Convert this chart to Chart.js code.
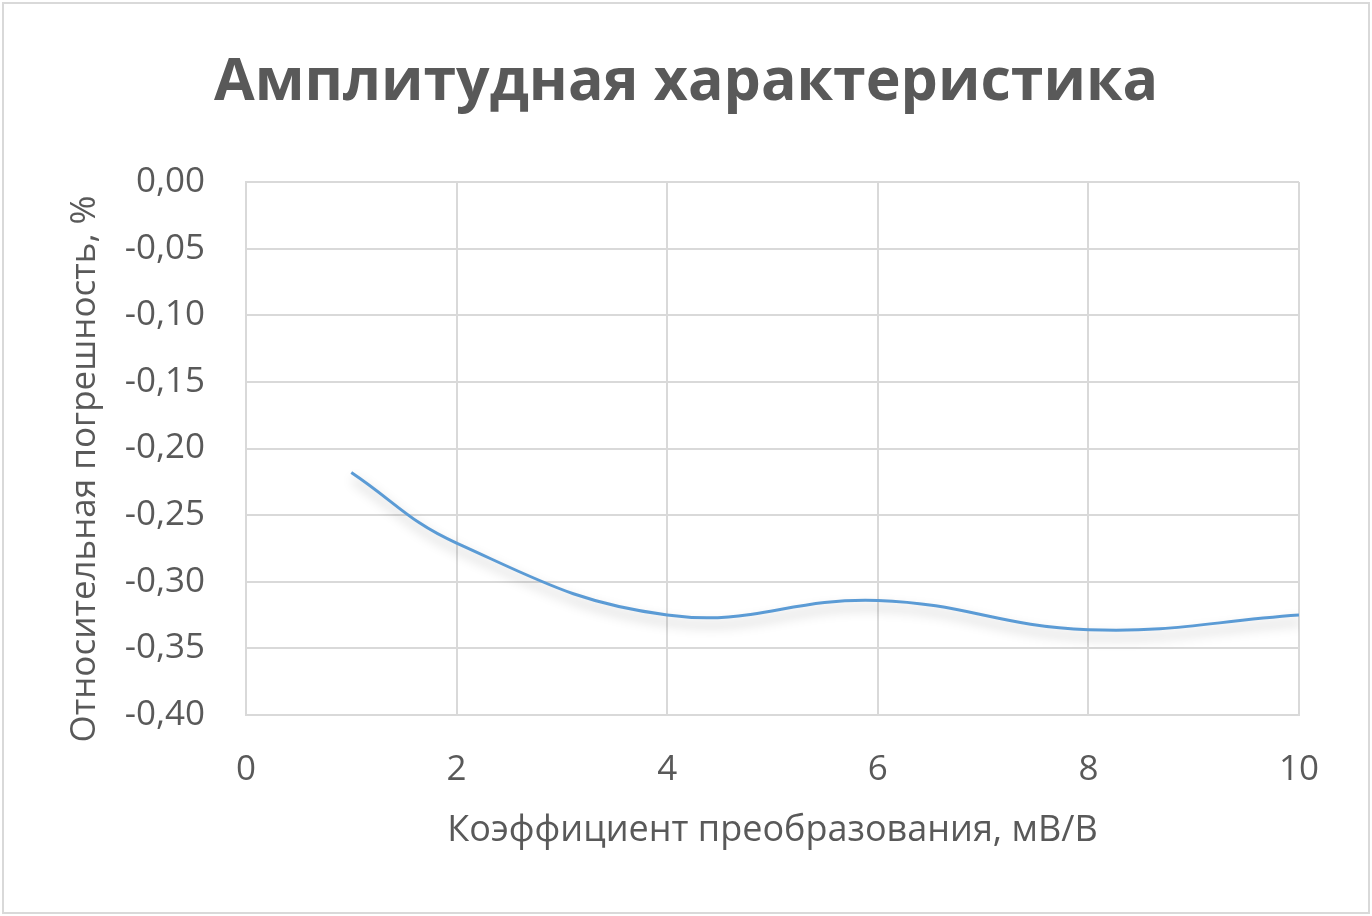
<!DOCTYPE html>
<html>
<head>
<meta charset="utf-8">
<script src="https://cdn.jsdelivr.net/npm/chart.js@4.4.0/dist/chart.umd.min.js"></script>
<style>
  html, body { margin: 0; padding: 0; background: #ffffff; }
  #wrap { position: relative; width: 1372px; height: 916px; }
</style>
</head>
<body>
<div id="wrap"><canvas id="c" width="1372" height="916"></canvas></div>
<script>
const chartTitle = 'Амплитудная характеристика';
const xTitle = 'Коэффициент преобразования, мВ/В';
const yTitle = 'Относительная погрешность, %';
const xValues = [1, 2, 4, 6, 8, 10];
const yValues = [-0.218, -0.271, -0.325, -0.314, -0.336, -0.325];
const xTicks = [0, 2, 4, 6, 8, 10];
const yTicks = [0, -0.05, -0.10, -0.15, -0.20, -0.25, -0.30, -0.35, -0.40];

const TEXT = '#595959';
const GRID = '#d9d9d9';
const FONT = "'Open Sans', 'Noto Sans', sans-serif";

const frame = {
  id: 'frame',
  beforeDraw(chart) {
    const ctx = chart.ctx;
    ctx.save();
    ctx.fillStyle = '#ffffff';
    ctx.fillRect(0, 0, chart.width, chart.height);
    ctx.strokeStyle = GRID;
    ctx.lineWidth = 2;
    ctx.strokeRect(3, 3, chart.width - 6, chart.height - 6);
    ctx.restore();
  },
  afterDraw(chart) {
    const ctx = chart.ctx;
    ctx.save();
    ctx.translate(85, 469);
    ctx.rotate(-Math.PI / 2);
    ctx.fillStyle = TEXT;
    ctx.font = '35px ' + FONT;
    ctx.textAlign = 'center';
    ctx.textBaseline = 'middle';
    ctx.fillText(yTitle, 0, 0);
    ctx.restore();
  }
};

const shadow = {
  id: 'shadow',
  beforeDatasetDraw(chart) {
    const ctx = chart.ctx;
    ctx.save();
    ctx.shadowColor = 'rgba(0,0,0,0.28)';
    ctx.shadowBlur = 12;
    ctx.shadowOffsetX = 2;
    ctx.shadowOffsetY = 7;
  },
  afterDatasetDraw(chart) {
    chart.ctx.restore();
  }
};

new Chart(document.getElementById('c'), {
  type: 'scatter',
  data: {
    datasets: [{
      data: xValues.map((x, i) => ({ x: x, y: yValues[i] })),
      showLine: true,
      borderColor: '#5b9bd5',
      borderWidth: 3,
      pointRadius: 0,
      tension: 0.42,
      fill: false
    }]
  },
  plugins: [frame, shadow],
  options: {
    responsive: false,
    animation: false,
    devicePixelRatio: 1,
    layout: { padding: 0 },
    plugins: {
      legend: { display: false },
      tooltip: { enabled: false },
      title: {
        display: true,
        text: chartTitle,
        color: TEXT,
        font: { family: FONT, size: 59, weight: 'bold', lineHeight: 1.2 },
        padding: { top: 48, bottom: 63.2 }
      }
    },
    scales: {
      x: {
        type: 'linear',
        min: 0, max: 10,
        afterBuildTicks(scale) { scale.ticks = xTicks.map(v => ({ value: v })); },
        afterFit(scale) { scale.height = 201; },
        grid: { color: GRID, lineWidth: 2, drawTicks: false },
        border: { color: GRID, width: 2 },
        ticks: {
          color: TEXT, padding: 34,
          font: { family: FONT, size: 35 },
          callback: v => String(v)
        },
        title: {
          display: true, text: xTitle, color: TEXT,
          font: { family: FONT, size: 36, lineHeight: 1.2 },
          padding: { top: 0, bottom: 64 }
        }
      },
      y: {
        type: 'linear',
        min: -0.4, max: 0,
        afterBuildTicks(scale) { scale.ticks = yTicks.map(v => ({ value: v })); },
        afterFit(scale) { scale.width = 246; },
        grid: { color: GRID, lineWidth: 2, drawTicks: false },
        border: { color: GRID, width: 2 },
        ticks: {
          color: TEXT, padding: 41,
          font: { family: FONT, size: 35 },
          callback: v => Number(v).toFixed(2).replace('.', ',')
        },
        title: { display: false }
      },
      spacer: {
        type: 'linear',
        position: 'right',
        min: 0, max: 1,
        afterFit(scale) { scale.width = 73; },
        grid: { display: false, drawTicks: false },
        border: { display: false },
        ticks: { display: false },
        title: { display: false }
      }
    }
  }
});
</script>
</body>
</html>
